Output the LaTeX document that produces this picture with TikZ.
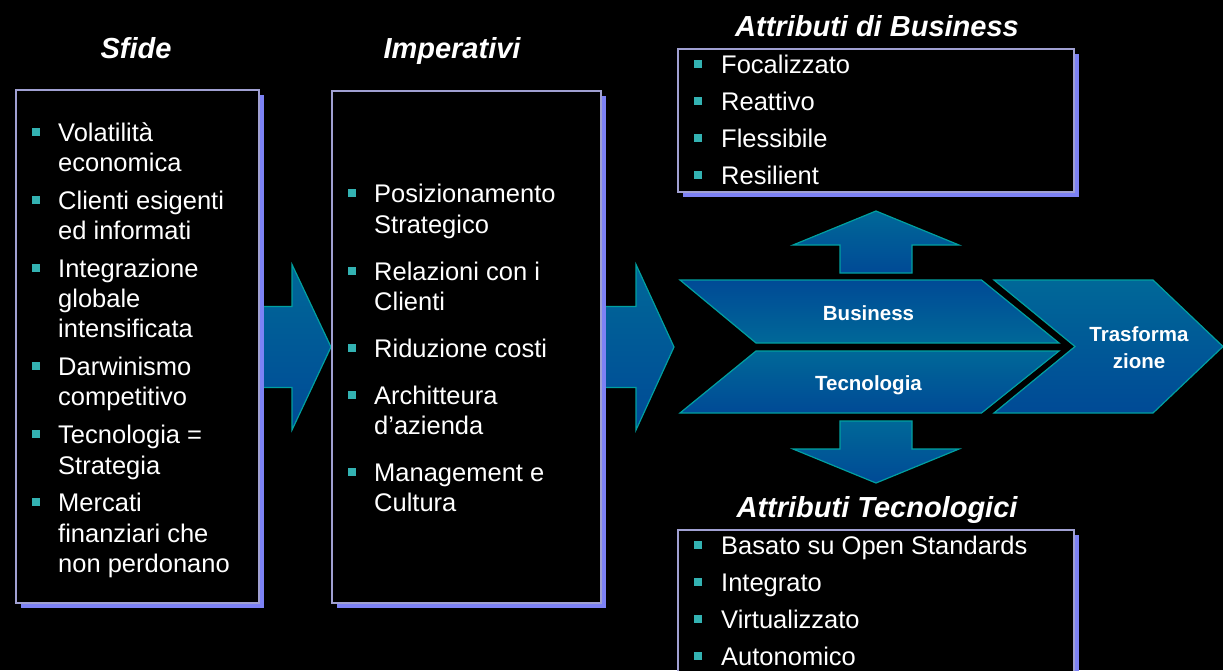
\documentclass[tikz,border=0pt]{standalone}
\usepackage{fontspec}
\setmainfont{Liberation Sans}
\definecolor{bulletc}{RGB}{51,178,178}
\definecolor{panelc}{RGB}{160,160,210}
\definecolor{shadowc}{RGB}{125,130,245}
\definecolor{edgec}{RGB}{0,160,160}
\definecolor{blueA}{RGB}{0,104,152}
\definecolor{blueB}{RGB}{0,74,150}
\begin{document}
\begin{tikzpicture}[x=1pt,y=-1pt,
 title/.style={font=\fontsize{29}{34}\selectfont\bfseries\itshape, text=white, inner sep=0, anchor=base},
 item/.style={font=\fontsize{25.5}{30}\selectfont, text=white, inner sep=0, anchor=base west},
 bsq/.style={fill=bulletc, minimum size=8pt, inner sep=0, draw=none},
 lbl/.style={font=\fontsize{20.5}{24}\selectfont\bfseries, text=white, inner sep=0, anchor=base},
 panel/.style={fill=black, draw=panelc, line width=1.5pt},
 shadowbox/.style={fill=shadowc},
 blk/.style={draw=edgec, line width=1.2pt, top color=blueA, bottom color=blueB},
 blkrev/.style={draw=edgec, line width=1.2pt, top color=blueB, bottom color=blueA}]
\fill[black] (0,0) rectangle (1223,670);
\useasboundingbox (0,0) rectangle (1223,670);

% big arrows between panels
\path[blk] (250,306.5) -- (292,306.5) -- (292,264.5) -- (331,347) -- (292,430) -- (292,387.5) -- (250,387.5) -- cycle;
\path[blk] (595,306.5) -- (636,306.5) -- (636,264.5) -- (674,347) -- (636,430) -- (636,387.5) -- (595,387.5) -- cycle;

% panels
\fill[shadowbox] (21,95) rectangle (264,608);
\draw[panel] (16,90) rectangle (259,603);
\fill[shadowbox] (337,96) rectangle (606,608);
\draw[panel] (332,91) rectangle (601,603);
\fill[shadowbox] (683,54) rectangle (1079,197);
\draw[panel] (678,49) rectangle (1074,192);
\fill[shadowbox] (683,535) rectangle (1079,700);
\draw[panel] (678,530) rectangle (1074,695);

% titles
\node[title] (tsfide) at (136,58) {Sfide};
\node[title] (timp) at (452,58) {Imperativi};
\node[title] (tbus) at (877,36) {Attributi di Business};
\node[title] (ttec) at (877,517) {Attributi Tecnologici};

% Sfide list
\node[bsq] (s1b) at (36,131.5) {};
\node[item] (s1a) at (58,141) {Volatilità};
\node[item] (s1c) at (58,171.5) {economica};
\node[bsq] (s2b) at (36,199.5) {};
\node[item] (s2a) at (58,209) {Clienti esigenti};
\node[item] (s2c) at (58,239.5) {ed informati};
\node[bsq] (s3b) at (36,267.5) {};
\node[item] (s3a) at (58,277) {Integrazione};
\node[item] (s3c) at (58,307) {globale};
\node[item] (s3d) at (58,337.5) {intensificata};
\node[bsq] (s4b) at (36,365.5) {};
\node[item] (s4a) at (58,375) {Darwinismo};
\node[item] (s4c) at (58,405.5) {competitivo};
\node[bsq] (s5b) at (36,434) {};
\node[item] (s5a) at (58,443.5) {Tecnologia =};
\node[item] (s5c) at (58,474) {Strategia};
\node[bsq] (s6b) at (36,502) {};
\node[item] (s6a) at (58,511.5) {Mercati};
\node[item] (s6c) at (58,542) {finanziari che};
\node[item] (s6d) at (58,572.5) {non perdonano};

% Imperativi list
\node[bsq] (i1b) at (352,193) {};
\node[item] (i1a) at (374,202.5) {Posizionamento};
\node[item] (i1c) at (374,233) {Strategico};
\node[bsq] (i2b) at (352,270.5) {};
\node[item] (i2a) at (374,280) {Relazioni con i};
\node[item] (i2c) at (374,310.5) {Clienti};
\node[bsq] (i3b) at (352,348) {};
\node[item] (i3a) at (374,357.5) {Riduzione costi};
\node[bsq] (i4b) at (352,394.5) {};
\node[item] (i4a) at (374,404) {Architteura};
\node[item] (i4c) at (374,434.5) {d’azienda};
\node[bsq] (i5b) at (352,471.5) {};
\node[item] (i5a) at (374,481) {Management e};
\node[item] (i5c) at (374,511.5) {Cultura};

% Attributi di Business
\node[bsq] (b1b) at (698,64) {};
\node[item] (b1a) at (721,73.5) {Focalizzato};
\node[bsq] (b2b) at (698,101) {};
\node[item] (b2a) at (721,110.5) {Reattivo};
\node[bsq] (b3b) at (698,138) {};
\node[item] (b3a) at (721,147.5) {Flessibile};
\node[bsq] (b4b) at (698,174.5) {};
\node[item] (b4a) at (721,184) {Resilient};

% Attributi Tecnologici
\node[bsq] (t1b) at (698,545) {};
\node[item] (t1a) at (721,554.5) {Basato su Open Standards};
\node[bsq] (t2b) at (698,582) {};
\node[item] (t2a) at (721,591.5) {Integrato};
\node[bsq] (t3b) at (698,619) {};
\node[item] (t3a) at (721,628.5) {Virtualizzato};
\node[bsq] (t4b) at (698,656) {};
\node[item] (t4a) at (721,665.5) {Autonomico};

% up / down arrows
\path[blk] (840,273) -- (840,245) -- (793,245) -- (876,211) -- (959,245) -- (912,245) -- (912,273) -- cycle;
\path[blk] (840,421) -- (912,421) -- (912,449) -- (959,449) -- (876,483) -- (793,449) -- (840,449) -- cycle;

% chevrons
\path[blkrev] (680,280) -- (981.5,280) -- (1059,343) -- (756,343) -- cycle;
\path[blk] (756,351) -- (1059,351) -- (981.5,413) -- (680,413) -- cycle;
\path[blk] (994,280) -- (1153,280) -- (1223,346.5) -- (1153,413) -- (994,413) -- (1075,346.5) -- cycle;

\node[lbl] (lbus) at (868.5,320) {Business};
\node[lbl] (ltec) at (868.5,390) {Tecnologia};
\node[lbl] (ltr1) at (1139,341.5) {Trasforma};
\node[lbl] (ltr2) at (1139,368.5) {zione};
\end{tikzpicture}
\end{document}
